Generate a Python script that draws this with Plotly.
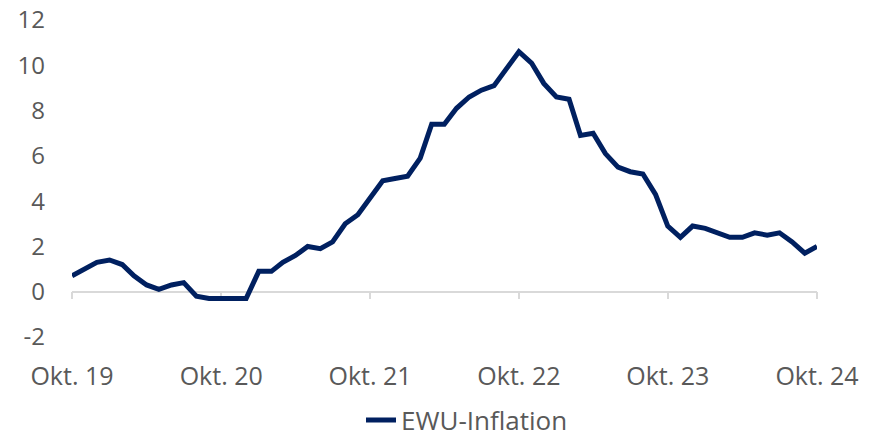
import plotly.graph_objects as go
import pandas as pd

months = pd.date_range("2019-10-01", "2024-10-01", freq="MS").strftime("%Y-%m-%d").tolist()
inflation = [
    0.7, 1.0, 1.3,
    1.4, 1.2, 0.7, 0.3, 0.1, 0.3, 0.4, -0.2, -0.3, -0.3, -0.3, -0.3,
    0.9, 0.9, 1.3, 1.6, 2.0, 1.9, 2.2, 3.0, 3.4, 4.1, 4.9, 5.0,
    5.1, 5.9, 7.4, 7.4, 8.1, 8.6, 8.9, 9.1, 9.9, 10.6, 10.1, 9.2,
    8.6, 8.5, 6.9, 7.0, 6.1, 5.5, 5.3, 5.2, 4.3, 2.9, 2.4, 2.9,
    2.8, 2.6, 2.4, 2.4, 2.6, 2.5, 2.6, 2.2, 1.7, 2.0,
]
tick_vals = ["2019-10-01", "2020-10-01", "2021-10-01", "2022-10-01", "2023-10-01", "2024-10-01"]
tick_text = ["Okt. 19", "Okt. 20", "Okt. 21", "Okt. 22", "Okt. 23", "Okt. 24"]
y_tick_vals = [-2, 0, 2, 4, 6, 8, 10, 12]
y_tick_text = ["-2", "0", "2", "4", "6", "8", "10", "12"]
series_name = "EWU-Inflation"
y_min, y_max = -2, 12

FONT = "Open Sans"
TXT = "#595959"
NAVY = "#002060"
GRID = "#d9d9d9"
FS = 24

fig = go.Figure()
# hidden helper trace on the main axis (carries tick labels)
fig.add_trace(go.Scatter(x=months, y=inflation, mode="lines", line=dict(width=0, color="rgba(0,0,0,0)"),
                         hoverinfo="skip", showlegend=False, xaxis="x", yaxis="y"))
fig.add_trace(go.Scatter(x=months, y=inflation, mode="lines", name=series_name,
                         line=dict(color=NAVY, width=5), xaxis="x2", yaxis="y"))

fig.update_layout(
    width=879, height=439,
    margin=dict(l=72, r=62, t=20, b=102, autoexpand=False),
    paper_bgcolor="white", plot_bgcolor="white",
    font=dict(family=FONT, size=FS, color=TXT),
    xaxis=dict(range=[months[0], months[-1]], tickvals=tick_vals, ticktext=tick_text,
               showgrid=False, zeroline=False, showline=False, ticks="", automargin=False,
               ticklabelstandoff=22, tickfont=dict(size=FS + 1, color=TXT)),
    xaxis2=dict(overlaying="x", matches="x", anchor="free",
                position=(0 - y_min) / (y_max - y_min),
                showline=True, linecolor=GRID, linewidth=1.5,
                ticks="outside", ticklen=7, tickwidth=1.5, tickcolor=GRID,
                tickvals=tick_vals, showticklabels=False, showgrid=False, zeroline=False,
                layer="below traces", automargin=False),
    yaxis=dict(range=[y_min, y_max], tickvals=y_tick_vals, ticktext=y_tick_text,
               showgrid=False, zeroline=False, showline=False, automargin=False,
               ticks="", ticklabelstandoff=26, tickfont=dict(size=FS, color=TXT)),
    showlegend=True,
    legend=dict(orientation="h", x=(467 - 72) / 745, xanchor="center",
                yref="container", y=(439 - 420) / 439, yanchor="middle",
                font=dict(size=FS + 2, color=TXT), bgcolor="rgba(0,0,0,0)"),
)

fig.write_html("out.html", config={"displayModeBar": False},
               post_script="document.body.style.margin='0';document.body.style.overflow='hidden';")
